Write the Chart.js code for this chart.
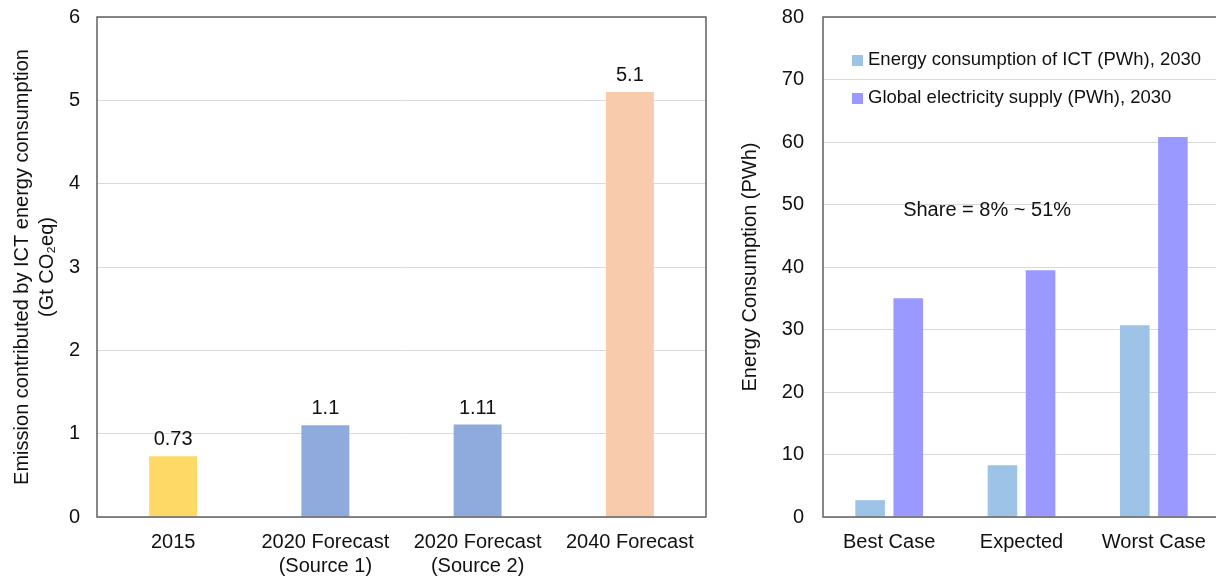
<!DOCTYPE html>
<html>
<head>
<meta charset="utf-8">
<script src="https://cdn.jsdelivr.net/npm/chart.js@4/dist/chart.umd.min.js"></script>
<style>
  html, body { margin: 0; padding: 0; background: #fff; overflow: hidden; width: 1216px; height: 577px; }
  #leftWrap { position: absolute; left: 0; top: 0; width: 720px; height: 577px; }
  #rightWrap { position: absolute; left: 720px; top: 0; width: 500px; height: 577px; }
</style>
</head>
<body>
<div id="leftWrap"><canvas id="left"></canvas></div>
<div id="rightWrap"><canvas id="right"></canvas></div>
<script>
// ---- Left chart data ----
const emissionCategories = ['2015', ['2020 Forecast', '(Source 1)'], ['2020 Forecast', '(Source 2)'], '2040 Forecast'];
const emissionValues = [0.73, 1.1, 1.11, 5.1];
const emissionLabels = ['0.73', '1.1', '1.11', '5.1'];
const emissionColors = ['#FFD966', '#8FAADC', '#8FAADC', '#F8CBAD'];
const emissionTicks = [0, 1, 2, 3, 4, 5, 6];

// ---- Right chart data ----
const scenarioCategories = ['Best Case', 'Expected', 'Worst Case'];
const ictEnergy = [2.7, 8.3, 30.7];
const globalSupply = [35, 39.5, 60.8];
const seriesNames = ['Energy consumption of ICT (PWh), 2030', 'Global electricity supply (PWh), 2030'];
const seriesColors = ['#9DC3E6', '#9999FF'];
const shareNote = 'Share = 8% ~ 51%';

const FONT = "'Liberation Sans', Arial, sans-serif";
const TXT = '#111';
const AXIS = '#606060';
const GRID = '#d9d9d9';

const boxPlugin = {
  id: 'box',
  afterDatasetsDraw(chart) {
    const {ctx, chartArea: a} = chart;
    ctx.save();
    ctx.strokeStyle = AXIS;
    ctx.lineWidth = 1.5;
    ctx.strokeRect(a.left, a.top, a.right - a.left, a.bottom - a.top);
    ctx.restore();
  }
};

const valueLabelPlugin = {
  id: 'valueLabels',
  afterDatasetsDraw(chart) {
    const {ctx} = chart;
    const meta = chart.getDatasetMeta(0);
    ctx.save();
    ctx.font = '20px ' + FONT;
    ctx.fillStyle = TXT;
    ctx.textAlign = 'center';
    ctx.textBaseline = 'alphabetic';
    meta.data.forEach((bar, i) => {
      ctx.fillText(emissionLabels[i], bar.x, bar.y - 11);
    });
    ctx.restore();
  }
};

new Chart(document.getElementById('left'), {
  type: 'bar',
  data: {
    labels: emissionCategories,
    datasets: [{
      data: emissionValues,
      backgroundColor: emissionColors,
      categoryPercentage: 1,
      barPercentage: 0.315
    }]
  },
  options: {
    responsive: true,
    maintainAspectRatio: false,
    animation: false,
    devicePixelRatio: 1,
    layout: { padding: { top: 17, right: 14, bottom: 0, left: 0 } },
    plugins: { legend: { display: false }, tooltip: { enabled: false } },
    scales: {
      x: {
        grid: { display: false, drawTicks: false },
        border: { display: false },
        ticks: { color: TXT, font: { family: FONT, size: 20, lineHeight: 1.2 }, padding: 13, maxRotation: 0, autoSkip: false },
        afterFit(s) { s.height = 60; }
      },
      y: {
        min: 0, max: 6,
        afterBuildTicks(s) { s.ticks = emissionTicks.map(v => ({ value: v })); },
        grid: { color: GRID, lineWidth: 1, drawTicks: false },
        border: { display: false },
        ticks: { color: TXT, font: { family: FONT, size: 20 }, padding: 17 },
        title: {
          display: true,
          text: ['Emission contributed by ICT energy consumption', '(Gt CO\u2082eq)'],
          color: TXT,
          font: { family: FONT, size: 20, lineHeight: 1.25 },
          padding: { top: 9.5, bottom: 0 }
        },
        afterFit(s) { s.width = 97; s.paddingTop = 0; s.paddingBottom = 0; }
      }
    }
  },
  plugins: [boxPlugin, valueLabelPlugin]
});

const legendPlugin = {
  id: 'insideLegend',
  afterDatasetsDraw(chart) {
    const {ctx, chartArea: a} = chart;
    ctx.save();
    ctx.font = '18.5px ' + FONT;
    ctx.textBaseline = 'middle';
    ctx.textAlign = 'left';
    chart.data.datasets.forEach((ds, i) => {
      const y = a.top + 43 + i * 38;
      ctx.fillStyle = ds.backgroundColor;
      ctx.fillRect(a.left + 29, y - 5, 11, 11);
      ctx.fillStyle = TXT;
      ctx.fillText(ds.label, a.left + 45, y);
    });
    const xs = chart.scales.x, ys = chart.scales.y;
    ctx.font = '20px ' + FONT;
    ctx.textAlign = 'center';
    ctx.fillText(shareNote, xs.getPixelForValue(0.74), ys.getPixelForValue(49));
    ctx.restore();
  }
};

new Chart(document.getElementById('right'), {
  type: 'bar',
  data: {
    labels: scenarioCategories,
    datasets: [
      { label: seriesNames[0], data: ictEnergy, backgroundColor: seriesColors[0], categoryPercentage: 0.576, barPercentage: 0.776 },
      { label: seriesNames[1], data: globalSupply, backgroundColor: seriesColors[1], categoryPercentage: 0.576, barPercentage: 0.776 }
    ]
  },
  options: {
    responsive: true,
    maintainAspectRatio: false,
    animation: false,
    devicePixelRatio: 1,
    layout: { padding: { top: 17, right: 0, bottom: 0, left: 0 } },
    plugins: { legend: { display: false }, tooltip: { enabled: false } },
    scales: {
      x: {
        grid: { display: false, drawTicks: false },
        border: { display: false },
        ticks: { color: TXT, font: { family: FONT, size: 20, lineHeight: 1.2 }, padding: 13, maxRotation: 0, autoSkip: false },
        afterFit(s) { s.height = 60; }
      },
      y: {
        min: 0, max: 80,
        ticks: { stepSize: 10, color: TXT, font: { family: FONT, size: 20 }, padding: 19 },
        grid: { color: GRID, lineWidth: 1, drawTicks: false },
        border: { display: false },
        title: {
          display: true,
          text: 'Energy Consumption (PWh)',
          color: TXT,
          font: { family: FONT, size: 20, lineHeight: 1.2 },
          padding: { top: 18, bottom: 0 }
        },
        afterFit(s) { s.width = 103; s.paddingTop = 0; s.paddingBottom = 0; }
      }
    }
  },
  plugins: [boxPlugin, legendPlugin]
});
</script>
</body>
</html>
